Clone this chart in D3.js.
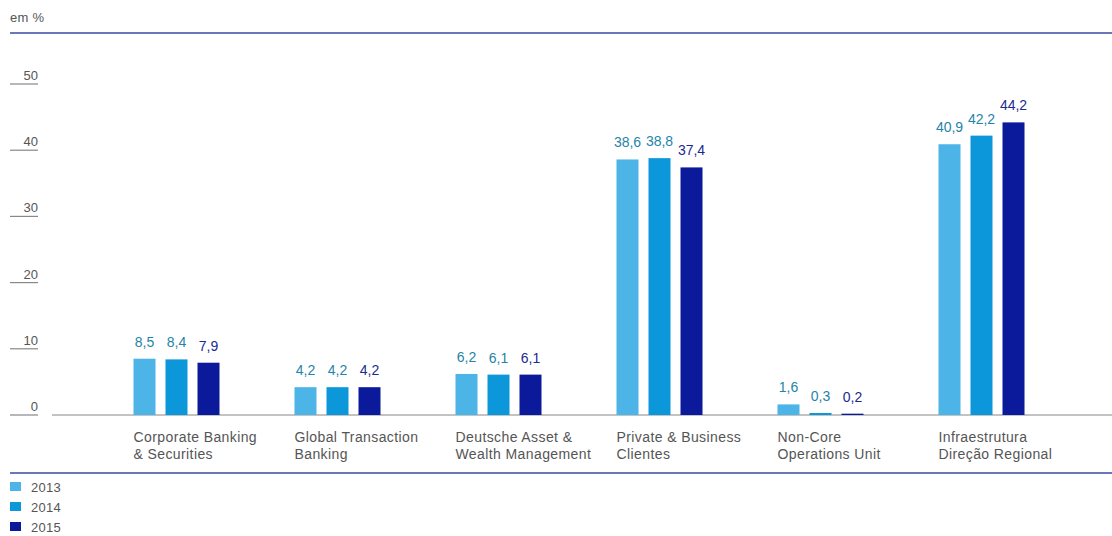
<!DOCTYPE html>
<html>
<head>
<meta charset="utf-8">
<script src="https://cdn.jsdelivr.net/npm/d3@7/dist/d3.min.js"></script>
<style>
  html, body { margin: 0; padding: 0; background: #fff; }
  svg { display: block; font-family: "Liberation Sans", Arial, sans-serif; }
</style>
</head>
<body>
<svg id="chart" width="1112" height="536"></svg>
<script>
// Segment categories (two-line labels)
const categories = [
  ["Corporate Banking", "& Securities"],
  ["Global Transaction", "Banking"],
  ["Deutsche Asset &", "Wealth Management"],
  ["Private & Business", "Clientes"],
  ["Non-Core", "Operations Unit"],
  ["Infraestrutura", "Direção Regional"]
];
const years = ["2013", "2014", "2015"];
const values2013 = [8.5, 4.2, 6.2, 38.6, 1.6, 40.9];
const values2014 = [8.4, 4.2, 6.1, 38.8, 0.3, 42.2];
const values2015 = [7.9, 4.2, 6.1, 37.4, 0.2, 44.2];
const yTicks = [0, 10, 20, 30, 40, 50];
const unitLabel = "em %";

const seriesValues = [values2013, values2014, values2015];
const barColors = ["#4cb4e7", "#0b97d9", "#0a1a9a"];
const labelColors = ["#1f84a8", "#1f84a8", "#1b2a8f"];

const svg = d3.select("#chart");
const W = 1112;

const y = d3.scaleLinear().domain([0, 50]).range([415, 84]);
const x0 = d3.scaleBand()
  .domain(categories.map((c, i) => i))
  .range([96, 1062]);
const x1 = d3.scaleBand()
  .domain(years)
  .range([-43, 43])
  .paddingInner(0.3125)
  .paddingOuter(0);

// Header: unit label and rule
svg.append("text")
  .attr("x", 10).attr("y", 22)
  .attr("font-size", 13).attr("letter-spacing", 0.3).attr("fill", "#555")
  .text(unitLabel);
svg.append("line")
  .attr("x1", 10).attr("x2", W).attr("y1", 33).attr("y2", 33)
  .attr("stroke", "#3a4a9e").attr("stroke-width", 1.6);

// Y axis: short tick underlines with numbers above
const yAxis = svg.append("g").attr("class", "y-axis");
yTicks.forEach(t => {
  const g = yAxis.append("g").attr("transform", `translate(0,${y(t)})`);
  g.append("line")
    .attr("x1", 10).attr("x2", 38).attr("y1", 0).attr("y2", 0)
    .attr("stroke", "#888").attr("stroke-width", 1.2);
  g.append("text")
    .attr("x", 38).attr("y", -4)
    .attr("text-anchor", "end")
    .attr("font-size", 13).attr("fill", "#555")
    .text(t);
});

// Baseline
svg.append("line")
  .attr("x1", 52).attr("x2", W).attr("y1", y(0)).attr("y2", y(0))
  .attr("stroke", "#888").attr("stroke-width", 1.2);

// Bars and value labels
const groups = svg.append("g").selectAll("g.cat")
  .data(categories.map((c, i) => i))
  .join("g")
  .attr("class", "cat")
  .attr("transform", i => `translate(${x0(i) + x0.bandwidth() / 2},0)`);

years.forEach((yr, s) => {
  groups.append("rect")
    .attr("x", x1(yr))
    .attr("width", x1.bandwidth())
    .attr("y", i => y(seriesValues[s][i]))
    .attr("height", i => y(0) - y(seriesValues[s][i]))
    .attr("fill", barColors[s]);
  groups.append("text")
    .attr("x", x1(yr) + x1.bandwidth() / 2)
    .attr("y", i => y(seriesValues[s][i]) - 12)
    .attr("text-anchor", "middle")
    .attr("font-size", 14)
    .attr("fill", labelColors[s])
    .text(i => seriesValues[s][i].toFixed(1).replace(".", ","));
});

// Category labels
groups.append("text")
  .attr("y", 442)
  .attr("font-size", 14)
  .attr("letter-spacing", 0.4)
  .attr("fill", "#555")
  .selectAll("tspan")
  .data(i => categories[i])
  .join("tspan")
  .attr("x", x1(years[0]))
  .attr("dy", (d, k) => k === 0 ? 0 : 17)
  .text(d => d);

// Footer rule
svg.append("line")
  .attr("x1", 10).attr("x2", W).attr("y1", 473).attr("y2", 473)
  .attr("stroke", "#3a4a9e").attr("stroke-width", 1.6);

// Legend
const legend = svg.append("g").selectAll("g")
  .data(years)
  .join("g")
  .attr("transform", (d, k) => `translate(10,${482 + k * 20})`);
legend.append("rect")
  .attr("width", 11).attr("height", 9)
  .attr("fill", (d, k) => barColors[k]);
legend.append("text")
  .attr("x", 21).attr("y", 10)
  .attr("font-size", 13).attr("letter-spacing", 0.3).attr("fill", "#555")
  .text(d => d);
</script>
</body>
</html>
